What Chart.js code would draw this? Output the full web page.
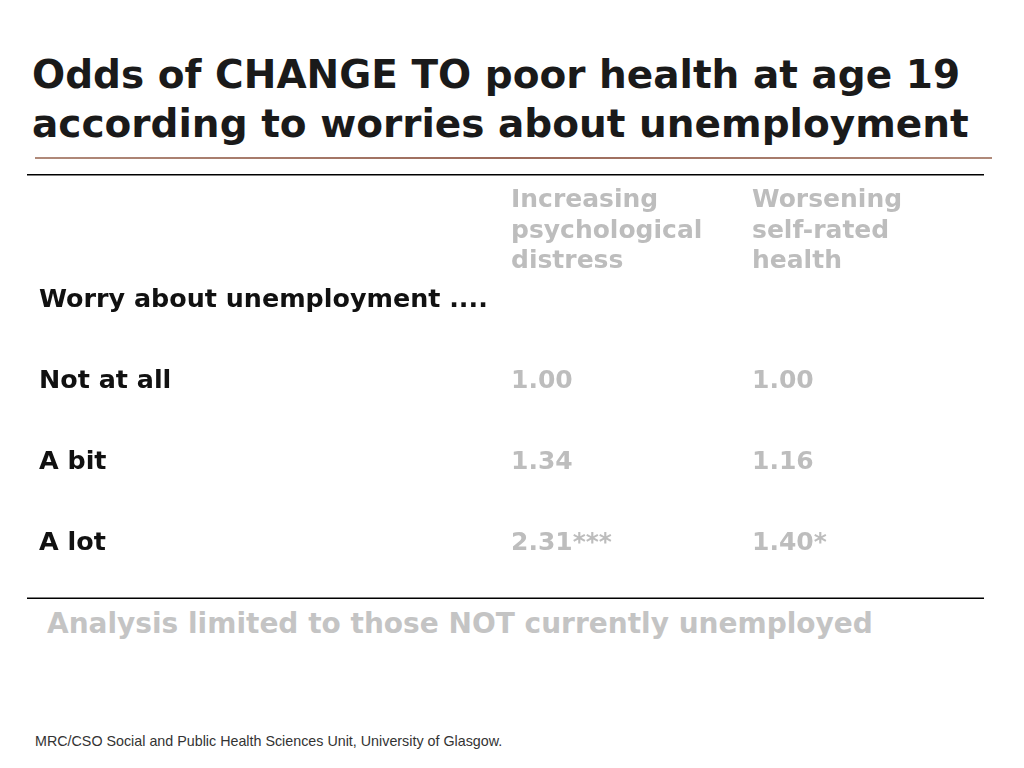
<!DOCTYPE html>
<html>
<head>
<meta charset="utf-8">
<script src="https://cdn.jsdelivr.net/npm/chart.js@4"></script>
<style>
  body { margin: 0; width: 1024px; height: 768px; background: #fff; position: relative; overflow: hidden; font-family: "DejaVu Sans", Verdana, sans-serif; }
  #title { position: absolute; left: 32px; top: 50px; margin: 0; font-size: 39px; font-weight: bold; color: #1a1a1a; line-height: 49px; white-space: nowrap; }
  #rule { position: absolute; left: 35px; top: 157px; width: 957px; height: 2px; background: linear-gradient(to right, #b08a7a, #9c6a5a, #b08a7a); }
  #note { position: absolute; left: 47px; top: 607px; font-size: 28px; font-weight: bold; color: #c4c4c4; white-space: nowrap; }
  #footer { position: absolute; left: 35px; top: 733px; font-size: 14.3px; color: #333; font-family: "Liberation Sans", Arial, sans-serif; }
  #wrap { position: absolute; left: 0; top: 174px; width: 1024px; height: 425px; }
</style>
</head>
<body>
<h1 id="title">Odds of CHANGE TO poor health at age 19<br>according to worries about unemployment</h1>
<div id="rule"></div>
<div id="wrap"><canvas id="tbl"></canvas></div>
<div id="note">Analysis limited to those NOT currently unemployed</div>
<div id="footer">MRC/CSO Social and Public Health Sciences Unit, University of Glasgow.</div>
<script>
// table contents
const columnHeads = ["Increasing\npsychological\ndistress", "Worsening\nself-rated\nhealth"];
const rowLabels = ["Worry about unemployment ....", "Not at all", "A bit", "A lot"];
const distressOdds = ["", "1.00", "1.34", "2.31***"];
const healthOdds = ["", "1.00", "1.16", "1.40*"];

// layout: left edge of each column, row slot of the header
const columnX = [39, 511, 752];
const headerRow = 0.15;

const points = [];
columnHeads.forEach((t, i) => points.push({ x: columnX[i + 1], y: headerRow, text: t, kind: "head" }));
rowLabels.forEach((t, r) => {
  points.push({ x: columnX[0], y: r + 1, text: t, kind: "label" });
  points.push({ x: columnX[1], y: r + 1, text: distressOdds[r], kind: "cell" });
  points.push({ x: columnX[2], y: r + 1, text: healthOdds[r], kind: "cell" });
});

const textPlugin = {
  id: "cellText",
  afterDatasetsDraw(chart) {
    const ctx = chart.ctx;
    const meta = chart.getDatasetMeta(0);
    ctx.save();
    ctx.textAlign = "left";
    ctx.textBaseline = "middle";
    meta.data.forEach((el, i) => {
      const p = points[i];
      if (!p.text) return;
      if (p.kind === "label") { ctx.fillStyle = "#111"; ctx.font = "bold 25.4px 'DejaVu Sans'"; }
      else { ctx.fillStyle = "#bdbdbd"; ctx.font = "bold 25px 'DejaVu Sans'"; }
      const lines = p.text.split("\n");
      const lh = 30.5;
      lines.forEach((ln, k) => ctx.fillText(ln, el.x, el.y + 2 + (k - (lines.length - 1) / 2) * lh));
    });
    // table borders
    const a = chart.chartArea;
    ctx.strokeStyle = "#000";
    ctx.lineWidth = 1.5;
    ctx.beginPath();
    ctx.moveTo(27, a.top + 0.75); ctx.lineTo(984, a.top + 0.75);
    ctx.moveTo(27, a.bottom - 0.75); ctx.lineTo(984, a.bottom - 0.75);
    ctx.stroke();
    ctx.restore();
  }
};

new Chart(document.getElementById("tbl"), {
  type: "scatter",
  data: { datasets: [{ data: points, pointRadius: 0, pointHoverRadius: 0 }] },
  options: {
    responsive: true, maintainAspectRatio: false, animation: false,
    layout: { padding: 0 },
    plugins: { legend: { display: false }, tooltip: { enabled: false } },
    scales: {
      x: { type: "linear", display: false, min: 0, max: 1024 },
      y: { type: "linear", display: false, reverse: true, min: -0.531, max: 4.716 }
    }
  },
  plugins: [textPlugin]
});
</script>
</body>
</html>
